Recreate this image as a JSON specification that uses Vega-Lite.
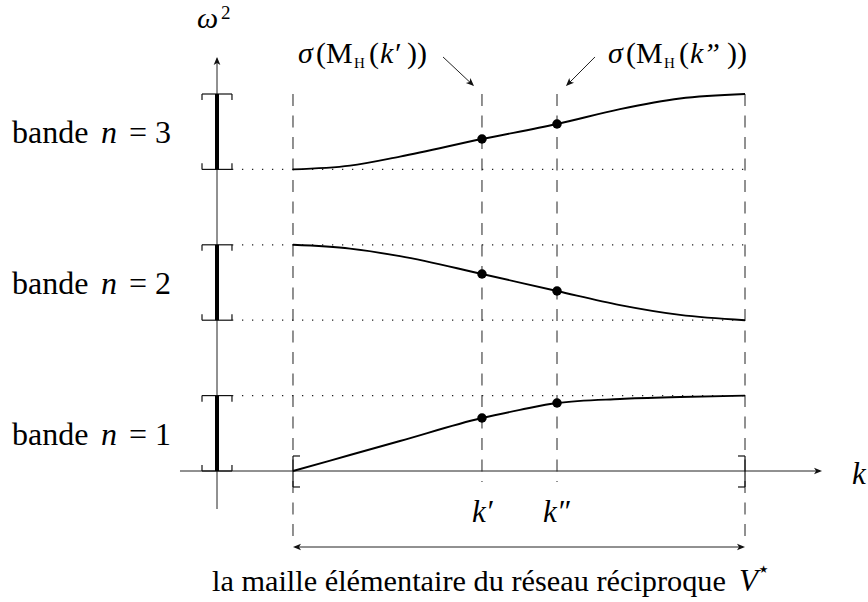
{
  "$schema": "https://vega.github.io/schema/vega-lite/v6.json",
  "width": 868,
  "height": 602,
  "autosize": "none",
  "padding": 0,
  "background": "white",
  "config": {"view": {"stroke": null}},
  "datasets": {
    "segs": [
      {"g": "axis", "x": -0.25, "y": 0, "x2": 1.165, "y2": 0},
      {"g": "axis", "x": -0.1681, "y": -0.504, "x2": -0.1681, "y2": 5.47},
      {"g": "axis", "x": 0.005, "y": -1.008, "x2": 0.995, "y2": -1.008},
      {"g": "axis", "x": 0.3319, "y": 5.491, "x2": 0.3985, "y2": 5.116},
      {"g": "axis", "x": 0.6681, "y": 5.491, "x2": 0.6058, "y2": 5.116},
      {"g": "band", "x": -0.1681, "y": 0, "x2": -0.1681, "y2": 1},
      {"g": "band", "x": -0.1681, "y": 2, "x2": -0.1681, "y2": 3},
      {"g": "band", "x": -0.1681, "y": 4, "x2": -0.1681, "y2": 5},
      {"g": "brk", "x": -0.2013, "y": 0, "x2": -0.135, "y2": 0},
      {"g": "brk", "x": -0.2013, "y": 1, "x2": -0.135, "y2": 1},
      {"g": "brk", "x": -0.2013, "y": 2, "x2": -0.135, "y2": 2},
      {"g": "brk", "x": -0.2013, "y": 3, "x2": -0.135, "y2": 3},
      {"g": "brk", "x": -0.2013, "y": 4, "x2": -0.135, "y2": 4},
      {"g": "brk", "x": -0.2013, "y": 5, "x2": -0.135, "y2": 5},
      {"g": "brk", "x": -0.2013, "y": 1, "x2": -0.2013, "y2": 0.92},
      {"g": "brk", "x": -0.135, "y": 1, "x2": -0.135, "y2": 0.92},
      {"g": "brk", "x": -0.2013, "y": 3, "x2": -0.2013, "y2": 2.92},
      {"g": "brk", "x": -0.135, "y": 3, "x2": -0.135, "y2": 2.92},
      {"g": "brk", "x": -0.2013, "y": 5, "x2": -0.2013, "y2": 4.92},
      {"g": "brk", "x": -0.135, "y": 5, "x2": -0.135, "y2": 4.92},
      {"g": "brk", "x": -0.2013, "y": 0, "x2": -0.2013, "y2": 0.08},
      {"g": "brk", "x": -0.135, "y": 0, "x2": -0.135, "y2": 0.08},
      {"g": "brk", "x": -0.2013, "y": 2, "x2": -0.2013, "y2": 2.08},
      {"g": "brk", "x": -0.135, "y": 2, "x2": -0.135, "y2": 2.08},
      {"g": "brk", "x": -0.2013, "y": 4, "x2": -0.2013, "y2": 4.08},
      {"g": "brk", "x": -0.135, "y": 4, "x2": -0.135, "y2": 4.08},
      {"g": "brk", "x": 0, "y": -0.212, "x2": 0, "y2": 0.199},
      {"g": "brk", "x": 0, "y": 0.199, "x2": 0.0155, "y2": 0.199},
      {"g": "brk", "x": 0, "y": -0.212, "x2": 0.0155, "y2": -0.212},
      {"g": "brk", "x": 1, "y": -0.212, "x2": 1, "y2": 0.199},
      {"g": "brk", "x": 0.9845, "y": 0.199, "x2": 1, "y2": 0.199},
      {"g": "brk", "x": 0.9845, "y": -0.212, "x2": 1, "y2": -0.212},
      {"g": "dash", "x": 0, "y": 5.0, "x2": 0, "y2": -0.93},
      {"g": "dash", "x": 0.4181, "y": 5.0, "x2": 0.4181, "y2": -0.146},
      {"g": "dash", "x": 0.5841, "y": 5.0, "x2": 0.5841, "y2": -0.146},
      {"g": "dash", "x": 1, "y": 5.0, "x2": 1, "y2": -0.93},
      {"g": "dot", "x": -0.135, "y": 4, "x2": 1, "y2": 4},
      {"g": "dot", "x": -0.135, "y": 3, "x2": 1, "y2": 3},
      {"g": "dot", "x": -0.135, "y": 2, "x2": 1, "y2": 2},
      {"g": "dot", "x": -0.135, "y": 1, "x2": 1, "y2": 1}
    ],
    "curves": [
      {"band": 3, "x": 0, "y": 4.0},
      {"band": 3, "x": 0.1261, "y": 4.05},
      {"band": 3, "x": 0.2367, "y": 4.17},
      {"band": 3, "x": 0.4181, "y": 4.403},
      {"band": 3, "x": 0.5841, "y": 4.602},
      {"band": 3, "x": 0.7235, "y": 4.8},
      {"band": 3, "x": 0.8562, "y": 4.94},
      {"band": 3, "x": 1, "y": 5.0},
      {"band": 2, "x": 0, "y": 3.0},
      {"band": 2, "x": 0.1261, "y": 2.95},
      {"band": 2, "x": 0.2367, "y": 2.85},
      {"band": 2, "x": 0.4181, "y": 2.613},
      {"band": 2, "x": 0.5841, "y": 2.387},
      {"band": 2, "x": 0.7235, "y": 2.2},
      {"band": 2, "x": 0.8562, "y": 2.07},
      {"band": 2, "x": 1, "y": 2.0},
      {"band": 1, "x": 0, "y": 0},
      {"band": 1, "x": 0.1261, "y": 0.212},
      {"band": 1, "x": 0.2367, "y": 0.398},
      {"band": 1, "x": 0.4181, "y": 0.703},
      {"band": 1, "x": 0.5022, "y": 0.81},
      {"band": 1, "x": 0.5841, "y": 0.902},
      {"band": 1, "x": 0.7235, "y": 0.955},
      {"band": 1, "x": 0.8562, "y": 0.981},
      {"band": 1, "x": 1, "y": 1.0}
    ],
    "dots": [
      {"x": 0.4181, "y": 4.403},
      {"x": 0.5841, "y": 4.602},
      {"x": 0.4181, "y": 2.613},
      {"x": 0.5841, "y": 2.387},
      {"x": 0.4181, "y": 0.703},
      {"x": 0.5841, "y": 0.902}
    ],
    "heads": [
      {"x": 1.1704, "y": 0, "a": 0},
      {"x": -0.1681, "y": 5.491, "a": 270},
      {"x": 0, "y": -1.008, "a": 180},
      {"x": 1, "y": -1.008, "a": 0},
      {"x": 0.4004, "y": 5.106, "a": 43},
      {"x": 0.604, "y": 5.106, "a": 135}
    ],
    "labels": [
      {"role": "band", "t": "bande", "x": -0.6217, "y": 4.35},
      {"role": "band", "t": "bande", "x": -0.6217, "y": 2.347},
      {"role": "band", "t": "bande", "x": -0.6217, "y": 0.345},
      {"role": "band", "t": "= 3", "x": -0.3628, "y": 4.35},
      {"role": "band", "t": "= 2", "x": -0.3628, "y": 2.347},
      {"role": "band", "t": "= 1", "x": -0.3628, "y": 0.345},
      {"role": "bandvar", "t": "n", "x": -0.4248, "y": 4.35},
      {"role": "bandvar", "t": "n", "x": -0.4248, "y": 2.347},
      {"role": "bandvar", "t": "n", "x": -0.4248, "y": 0.345},
      {"role": "kvar", "t": "k", "x": 1.2367, "y": -0.172},
      {"role": "kvar", "t": "k′", "x": 0.396, "y": -0.676},
      {"role": "kvar", "t": "k″", "x": 0.5531, "y": -0.676},
      {"role": "ann", "t": "(M", "x": 0.0509, "y": 5.411},
      {"role": "ann", "t": "(", "x": 0.1681, "y": 5.411},
      {"role": "ann", "t": "))", "x": 0.2522, "y": 5.411},
      {"role": "ann", "t": "(M", "x": 0.7367, "y": 5.411},
      {"role": "ann", "t": "(", "x": 0.854, "y": 5.411},
      {"role": "ann", "t": "))", "x": 0.9602, "y": 5.411},
      {"role": "annvar", "t": "σ", "x": 0.0111, "y": 5.411},
      {"role": "annvar", "t": "k′", "x": 0.1925, "y": 5.411},
      {"role": "annvar", "t": "σ", "x": 0.6969, "y": 5.411},
      {"role": "annvar", "t": "k”", "x": 0.8783, "y": 5.411},
      {"role": "annsub", "t": "H", "x": 0.135, "y": 5.345},
      {"role": "annsub", "t": "H", "x": 0.8208, "y": 5.345},
      {"role": "omega", "t": "ω", "x": -0.2124, "y": 5.876},
      {"role": "omegaexp", "t": "2", "x": -0.1593, "y": 5.995},
      {"role": "caption", "t": "la maille élémentaire du réseau réciproque", "x": -0.1792, "y": -1.592},
      {"role": "capvar", "t": "V", "x": 0.9867, "y": -1.592},
      {"role": "capexp", "t": "⋆", "x": 1.0265, "y": -1.39}
    ]
  },
  "encoding": {
    "x": {"field": "x", "type": "quantitative", "axis": null, "scale": {"domain": [-0.6482, 1.2721], "nice": false, "zero": false}},
    "y": {"field": "y", "type": "quantitative", "axis": null, "scale": {"domain": [-1.7374, 6.2467], "nice": false, "zero": false}}
  },
  "layer": [
    {
      "data": {"name": "segs"},
      "transform": [{"filter": "datum.g == 'dot'"}],
      "mark": {"type": "rule", "color": "#222", "strokeWidth": 1.3, "strokeDash": [1.3, 8.7]},
      "encoding": {"x2": {"field": "x2"}, "y2": {"field": "y2"}}
    },
    {
      "data": {"name": "segs"},
      "transform": [{"filter": "datum.g == 'dash'"}],
      "mark": {"type": "rule", "color": "#222", "strokeWidth": 1, "strokeDash": [12, 9.5]},
      "encoding": {"x2": {"field": "x2"}, "y2": {"field": "y2"}}
    },
    {
      "data": {"name": "segs"},
      "transform": [{"filter": "datum.g == 'axis'"}],
      "mark": {"type": "rule", "color": "#222", "strokeWidth": 1},
      "encoding": {"x2": {"field": "x2"}, "y2": {"field": "y2"}}
    },
    {
      "data": {"name": "segs"},
      "transform": [{"filter": "datum.g == 'brk'"}],
      "mark": {"type": "rule", "color": "#111", "strokeWidth": 1.2},
      "encoding": {"x2": {"field": "x2"}, "y2": {"field": "y2"}}
    },
    {
      "data": {"name": "segs"},
      "transform": [{"filter": "datum.g == 'band'"}],
      "mark": {"type": "rule", "color": "black", "strokeWidth": 4},
      "encoding": {"x2": {"field": "x2"}, "y2": {"field": "y2"}}
    },
    {
      "data": {"name": "curves"},
      "mark": {"type": "line", "color": "black", "strokeWidth": 1.9, "interpolate": "monotone"},
      "encoding": {"detail": {"field": "band"}}
    },
    {
      "data": {"name": "dots"},
      "mark": {"type": "point", "shape": "circle", "filled": true, "color": "black", "opacity": 1, "size": 90}
    },
    {
      "data": {"name": "heads"},
      "mark": {"type": "point", "shape": "M0,0 L-1,-0.42 L-0.75,0 L-1,0.42 Z", "filled": true, "color": "#111", "opacity": 1, "size": 256},
      "encoding": {"angle": {"field": "a", "type": "quantitative", "scale": null}}
    },
    {
      "data": {"name": "labels"},
      "transform": [{"filter": "datum.role == 'band'"}],
      "mark": {"type": "text", "font": "Liberation Serif", "fontSize": 32, "align": "left", "baseline": "alphabetic", "color": "black"},
      "encoding": {"text": {"field": "t"}}
    },
    {
      "data": {"name": "labels"},
      "transform": [{"filter": "datum.role == 'bandvar'"}],
      "mark": {"type": "text", "font": "Liberation Serif", "fontStyle": "italic", "fontSize": 32, "align": "left", "baseline": "alphabetic", "color": "black"},
      "encoding": {"text": {"field": "t"}}
    },
    {
      "data": {"name": "labels"},
      "transform": [{"filter": "datum.role == 'kvar'"}],
      "mark": {"type": "text", "font": "Liberation Serif", "fontStyle": "italic", "fontSize": 31, "align": "left", "baseline": "alphabetic", "color": "black"},
      "encoding": {"text": {"field": "t"}}
    },
    {
      "data": {"name": "labels"},
      "transform": [{"filter": "datum.role == 'ann'"}],
      "mark": {"type": "text", "font": "Liberation Serif", "fontSize": 30, "align": "left", "baseline": "alphabetic", "color": "black"},
      "encoding": {"text": {"field": "t"}}
    },
    {
      "data": {"name": "labels"},
      "transform": [{"filter": "datum.role == 'annvar'"}],
      "mark": {"type": "text", "font": "Liberation Serif", "fontStyle": "italic", "fontSize": 30, "align": "left", "baseline": "alphabetic", "color": "black"},
      "encoding": {"text": {"field": "t"}}
    },
    {
      "data": {"name": "labels"},
      "transform": [{"filter": "datum.role == 'annsub'"}],
      "mark": {"type": "text", "font": "Liberation Serif", "fontSize": 15, "align": "left", "baseline": "alphabetic", "color": "black"},
      "encoding": {"text": {"field": "t"}}
    },
    {
      "data": {"name": "labels"},
      "transform": [{"filter": "datum.role == 'omega'"}],
      "mark": {"type": "text", "font": "Liberation Serif", "fontStyle": "italic", "fontSize": 30, "align": "left", "baseline": "alphabetic", "color": "black"},
      "encoding": {"text": {"field": "t"}}
    },
    {
      "data": {"name": "labels"},
      "transform": [{"filter": "datum.role == 'omegaexp'"}],
      "mark": {"type": "text", "font": "Liberation Serif", "fontSize": 19, "align": "left", "baseline": "alphabetic", "color": "black"},
      "encoding": {"text": {"field": "t"}}
    },
    {
      "data": {"name": "labels"},
      "transform": [{"filter": "datum.role == 'caption'"}],
      "mark": {"type": "text", "font": "Liberation Serif", "fontSize": 30.3, "align": "left", "baseline": "alphabetic", "color": "black"},
      "encoding": {"text": {"field": "t"}}
    },
    {
      "data": {"name": "labels"},
      "transform": [{"filter": "datum.role == 'capvar'"}],
      "mark": {"type": "text", "font": "Liberation Serif", "fontStyle": "italic", "fontSize": 31, "align": "left", "baseline": "alphabetic", "color": "black"},
      "encoding": {"text": {"field": "t"}}
    },
    {
      "data": {"name": "labels"},
      "transform": [{"filter": "datum.role == 'capexp'"}],
      "mark": {"type": "text", "font": "DejaVu Sans", "fontSize": 21, "align": "left", "baseline": "alphabetic", "color": "black"},
      "encoding": {"text": {"field": "t"}}
    }
  ]
}
